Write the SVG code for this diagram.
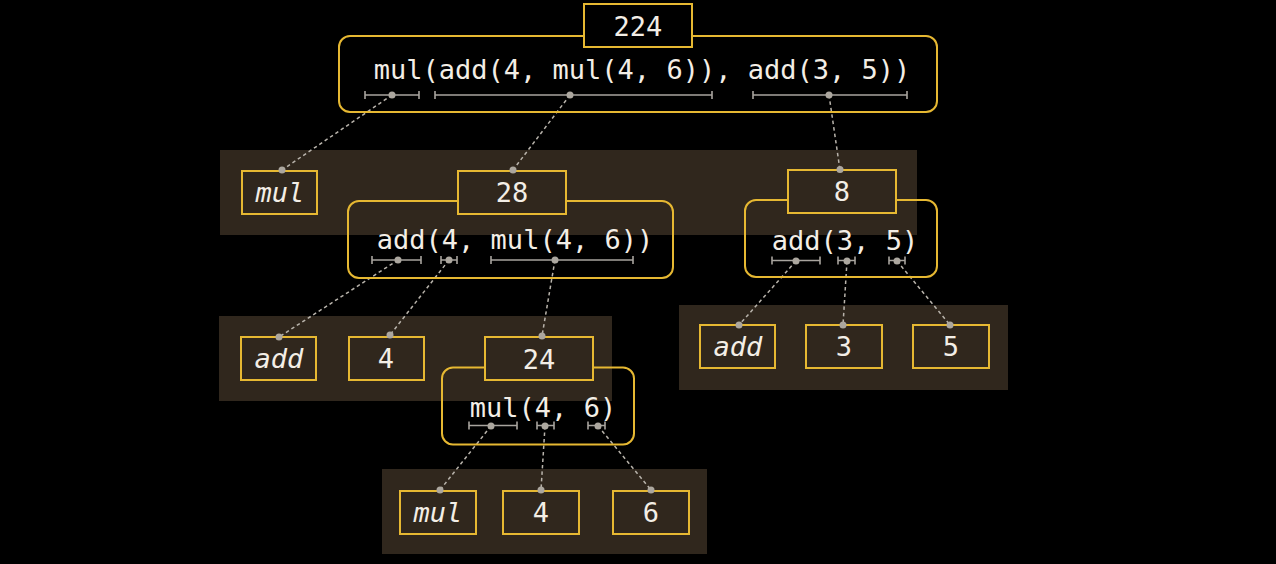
<svg xmlns="http://www.w3.org/2000/svg" width="1276" height="564" viewBox="0 0 1276 564">
<style>
.band{fill:#30271d}
.box{fill:none;stroke:#e6b832;stroke-width:2}
.vb{stroke:#e6b832;stroke-width:2}
.rr{fill:none;stroke:#e6b832;stroke-width:2}
text{font-family:"DejaVu Sans Mono","Liberation Mono",monospace;font-size:27px;fill:#f3eee6;text-anchor:middle}
.it{font-style:italic}
.br{stroke:#a8a49e;stroke-width:1.6;fill:none}
.dot{fill:#aca79f}
.con{stroke:#b8b3ab;stroke-width:1.5;stroke-dasharray:3.5 3;fill:none}
</style>
<rect width="1276" height="564" fill="#000"/>
<rect class="band" x="220" y="150" width="697" height="85"/>
<rect class="band" x="219" y="316" width="393" height="85"/>
<rect class="band" x="679" y="305" width="329" height="85"/>
<rect class="band" x="382" y="469" width="325" height="85"/>

<g id="connectors">
<line class="con" x1="392" y1="95" x2="282" y2="170"/>
<line class="con" x1="570" y1="95" x2="513" y2="170"/>
<line class="con" x1="829" y1="95" x2="840" y2="170"/>
<line class="con" x1="398" y1="260" x2="279" y2="337"/>
<line class="con" x1="449" y1="260" x2="390" y2="335"/>
<line class="con" x1="555" y1="260" x2="542" y2="336"/>
<line class="con" x1="796" y1="261" x2="739" y2="325"/>
<line class="con" x1="847" y1="261" x2="843" y2="325"/>
<line class="con" x1="897" y1="261" x2="950" y2="325"/>
<line class="con" x1="491" y1="426" x2="440" y2="490"/>
<line class="con" x1="545" y1="426" x2="541" y2="490"/>
<line class="con" x1="598" y1="426" x2="651" y2="490"/>
</g>

<g id="node-224">
<rect class="rr" x="339" y="36" width="598" height="76" rx="11"/>
<rect class="vb" x="584" y="4" width="108" height="43" fill="#000"/>
<text x="638" y="36">224</text>
<text x="642" y="79">mul(add(4, mul(4, 6)), add(3, 5))</text>
<path class="br" d="M365 95H419M365 91V99M419 91V99M435 95H712M435 91V99M712 91V99M753 95H907M753 91V99M907 91V99"/>
<circle class="dot" cx="392" cy="95" r="3.5"/>
<circle class="dot" cx="570" cy="95" r="3.5"/>
<circle class="dot" cx="829" cy="95" r="3.5"/>
</g>

<g id="leaf-mul-1">
<rect class="box" x="242" y="171" width="75" height="43"/>
<text class="it" x="280" y="202">mul</text>
<circle class="dot" cx="282" cy="170" r="3.5"/>
</g>

<g id="node-28">
<rect class="rr" x="348" y="201" width="325" height="77" rx="11"/>
<rect class="vb band" x="458" y="171" width="108" height="43"/>
<text x="512" y="202">28</text>
<text x="515" y="248.5">add(4, mul(4, 6))</text>
<path class="br" d="M372 260H421M372 256V264M421 256V264M441 260H457M441 256V264M457 256V264M491 260H633M491 256V264M633 256V264"/>
<circle class="dot" cx="513" cy="170" r="3.5"/>
<circle class="dot" cx="398" cy="260" r="3.5"/>
<circle class="dot" cx="449" cy="260" r="3.5"/>
<circle class="dot" cx="555" cy="260" r="3.5"/>
</g>

<g id="node-8">
<rect class="rr" x="745" y="200" width="192" height="77" rx="11"/>
<rect class="vb band" x="788" y="170" width="108" height="43"/>
<text x="842" y="201">8</text>
<text x="845" y="250">add(3, 5)</text>
<path class="br" d="M772 260.5H820M772 256.5V264.5M820 256.5V264.5M838 260.5H855M838 256.5V264.5M855 256.5V264.5M889 260.5H905M889 256.5V264.5M905 256.5V264.5"/>
<circle class="dot" cx="840" cy="169.5" r="3.5"/>
<circle class="dot" cx="796" cy="261" r="3.5"/>
<circle class="dot" cx="847" cy="261" r="3.5"/>
<circle class="dot" cx="897" cy="261" r="3.5"/>
</g>

<g id="leaf-add-1">
<rect class="box" x="241" y="337" width="75" height="43"/>
<text class="it" x="279" y="368">add</text>
<circle class="dot" cx="279" cy="337" r="3.5"/>
</g>

<g id="leaf-4-1">
<rect class="box" x="349" y="337" width="75" height="43"/>
<text x="386" y="368">4</text>
<circle class="dot" cx="390" cy="335" r="3.5"/>
</g>

<g id="node-24">
<rect class="rr" x="442" y="367.5" width="192" height="77" rx="11"/>
<rect class="vb band" x="485" y="337" width="108" height="43"/>
<text x="539" y="368.5">24</text>
<text x="543" y="417">mul(4, 6)</text>
<path class="br" d="M469 425.5H517M469 421.5V429.5M517 421.5V429.5M537 425.5H554M537 421.5V429.5M554 421.5V429.5M588 425.5H605M588 421.5V429.5M605 421.5V429.5"/>
<circle class="dot" cx="542" cy="336" r="3.5"/>
<circle class="dot" cx="491" cy="426" r="3.5"/>
<circle class="dot" cx="545" cy="426" r="3.5"/>
<circle class="dot" cx="598" cy="426" r="3.5"/>
</g>

<g id="leaf-add-2">
<rect class="box" x="700" y="325" width="75" height="43"/>
<text class="it" x="738" y="356">add</text>
<circle class="dot" cx="739" cy="325" r="3.5"/>
</g>

<g id="leaf-3">
<rect class="box" x="806" y="325" width="76" height="43"/>
<text x="844" y="356">3</text>
<circle class="dot" cx="843" cy="325" r="3.5"/>
</g>

<g id="leaf-5">
<rect class="box" x="913" y="325" width="76" height="43"/>
<text x="951" y="356">5</text>
<circle class="dot" cx="950" cy="325" r="3.5"/>
</g>

<g id="leaf-mul-2">
<rect class="box" x="400" y="491" width="76" height="43"/>
<text class="it" x="438" y="522">mul</text>
<circle class="dot" cx="440" cy="490" r="3.5"/>
</g>

<g id="leaf-4-2">
<rect class="box" x="503" y="491" width="76" height="43"/>
<text x="541" y="522">4</text>
<circle class="dot" cx="541" cy="490" r="3.5"/>
</g>

<g id="leaf-6">
<rect class="box" x="613" y="491" width="76" height="43"/>
<text x="651" y="522">6</text>
<circle class="dot" cx="651" cy="490" r="3.5"/>
</g>
</svg>
